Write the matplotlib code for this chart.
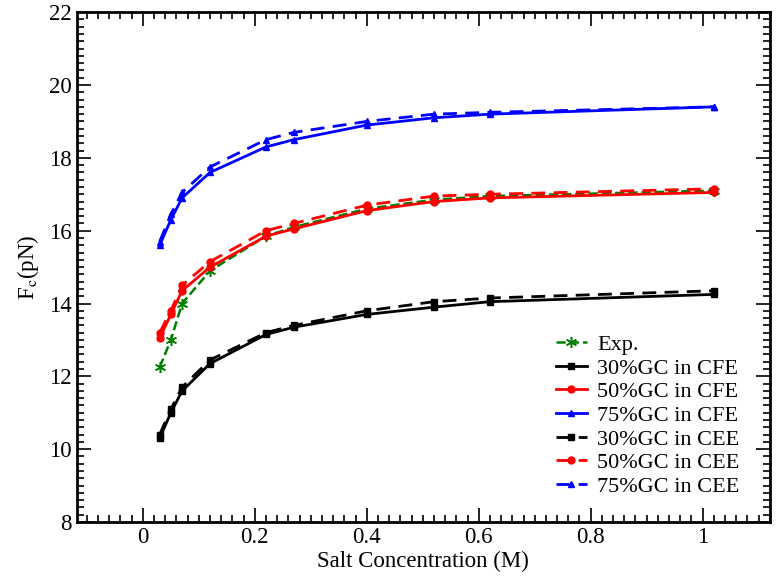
import matplotlib
matplotlib.use("Agg")
import matplotlib.pyplot as plt
from matplotlib.ticker import MultipleLocator

plt.rcParams['font.family'] = ['Liberation Serif', 'DejaVu Serif']
plt.rcParams['mathtext.fontset'] = 'stix'

salt = [0.03, 0.05, 0.07, 0.12, 0.22, 0.27, 0.40, 0.52, 0.62, 1.02]

exp_vals = [12.25, 13.0, 14.0, 14.9, 15.85, 16.1, 16.6, 16.85, 16.95, 17.1]
gc30_cfe = [10.3, 11.0, 11.6, 12.35, 13.15, 13.35, 13.7, 13.9, 14.05, 14.25]
gc50_cfe = [13.05, 13.7, 14.35, 15.0, 15.85, 16.05, 16.55, 16.8, 16.9, 17.05]
gc75_cfe = [15.6, 16.3, 16.9, 17.6, 18.3, 18.5, 18.9, 19.1, 19.2, 19.4]
gc30_cee = [10.4, 11.1, 11.7, 12.45, 13.2, 13.4, 13.8, 14.05, 14.15, 14.35]
gc50_cee = [13.2, 13.8, 14.5, 15.15, 16.0, 16.2, 16.7, 16.95, 17.0, 17.15]
gc75_cee = [15.7, 16.45, 17.05, 17.75, 18.5, 18.7, 19.0, 19.2, 19.25, 19.4]

fig = plt.figure(figsize=(7.76, 5.8), dpi=100)
ax = fig.add_axes([0.099, 0.1, 0.893, 0.879])

dash = (0, (5, 3))
ax.plot(salt, exp_vals, color='green', ls='--', marker=(6, 2, 0), ms=8, mew=1.1, lw=1.8, label='Exp.')
ax.plot(salt, gc30_cfe, color='black', ls='-', marker='s', ms=5, lw=2, label='30%GC in CFE')
ax.plot(salt, gc50_cfe, color='red', ls='-', marker='o', ms=5, lw=2, label='50%GC in CFE')
ax.plot(salt, gc75_cfe, color='blue', ls='-', marker='^', ms=5, lw=2, label='75%GC in CFE')
ax.plot(salt, gc30_cee, color='black', ls=dash, marker='s', ms=5, lw=2, label='30%GC in CEE')
ax.plot(salt, gc50_cee, color='red', ls=dash, marker='o', ms=5, lw=2, label='50%GC in CEE')
ax.plot(salt, gc75_cee, color='blue', ls=dash, marker='^', ms=5, lw=2, label='75%GC in CEE')

ax.set_xlim(-0.118, 1.12)
ax.set_ylim(8, 22)
ax.xaxis.set_major_locator(MultipleLocator(0.2))
ax.xaxis.set_minor_locator(MultipleLocator(0.02))
ax.yaxis.set_major_locator(MultipleLocator(2))
ax.yaxis.set_minor_locator(MultipleLocator(0.2))
ax.set_xticks([0, 0.2, 0.4, 0.6, 0.8, 1.0])
ax.set_xticklabels(['0', '0.2', '0.4', '0.6', '0.8', '1'])
ax.tick_params(which='both', direction='in', top=True, right=True, width=1.2, labelsize=16.5)
ax.tick_params(which='major', length=10)
ax.tick_params(which='minor', length=5)
for s in ax.spines.values():
    s.set_linewidth(2)

ax.set_xlabel('Salt Concentration (M)', fontsize=16.5, labelpad=2)
ax.set_ylabel(r'F$_\mathrm{c}$(pN)', fontsize=16.5, labelpad=6)

ax.legend(loc='lower right', frameon=False, fontsize=16, handlelength=1.4,
          handletextpad=0.45, labelspacing=0.14, bbox_to_anchor=(0.985, 0.01))

fig.savefig('out.png', dpi=100)
